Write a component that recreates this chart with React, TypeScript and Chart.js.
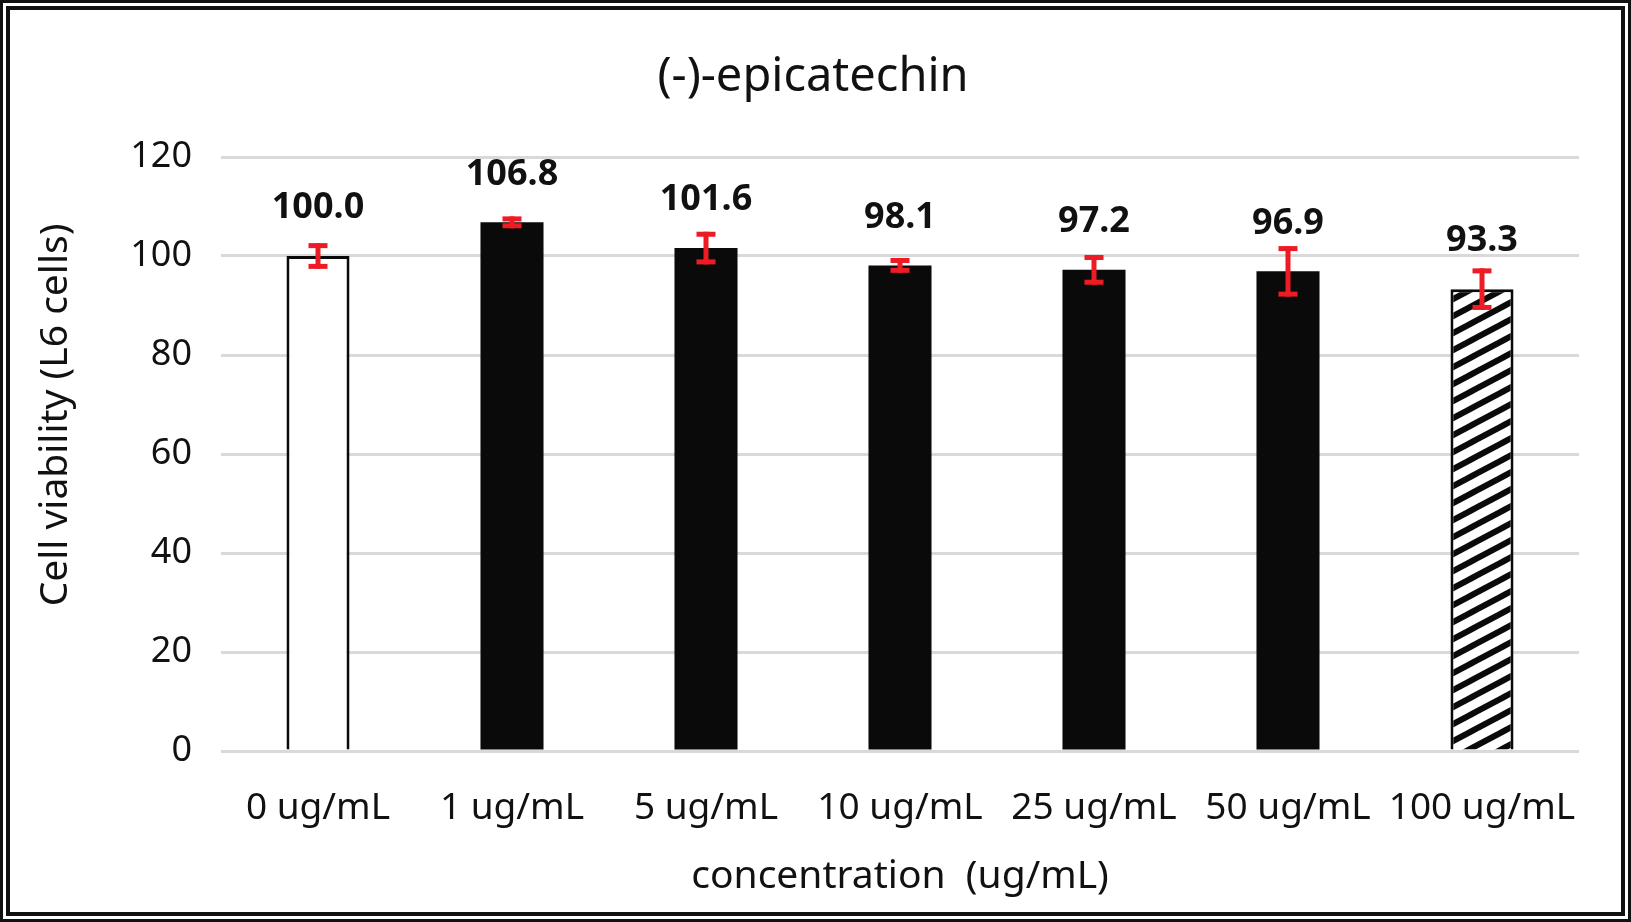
import React, { useEffect, useRef } from "react";
import { Chart, registerables } from "chart.js";

Chart.register(...registerables);

const categories = ["0 ug/mL", "1 ug/mL", "5 ug/mL", "10 ug/mL", "25 ug/mL", "50 ug/mL", "100 ug/mL"];
const viability = [100.0, 106.8, 101.6, 98.1, 97.2, 96.9, 93.3];
const errors = [2.6, 1.2, 3.3, 1.5, 3.0, 5.1, 4.2];
const barKinds = ["white", "black", "black", "black", "black", "black", "hatch"];
const yTicks = [0, 20, 40, 60, 80, 100, 120];
const titleText = "(-)-epicatechin";
const yTitleText = "Cell viability (L6 cells)";
const xTitleText = "concentration  (ug/mL)";

const W = 1631;
const H = 922;
const FONT = "'Noto Sans', sans-serif";

function makeHatch(): CanvasPattern | string {
  const tw = 32;
  const th = 17;
  const c = document.createElement("canvas");
  c.width = tw;
  c.height = th;
  const g = c.getContext("2d");
  if (!g) return "#fff";
  g.fillStyle = "#fff";
  g.fillRect(0, 0, tw, th);
  g.strokeStyle = "#0a0a0a";
  g.lineWidth = 6;
  for (let k = -1; k <= 2; k++) {
    g.beginPath();
    g.moveTo(-tw, k * th + th);
    g.lineTo(2 * tw, k * th - 2 * th);
    g.stroke();
  }
  const p = g.createPattern(c, "repeat");
  return p || "#fff";
}

export default function App() {
  const ref = useRef<HTMLCanvasElement | null>(null);

  useEffect(() => {
    const canvas = ref.current;
    if (!canvas) return;
    const hatch = makeHatch();
    const fills = barKinds.map((k) => (k === "white" ? "#ffffff" : k === "black" ? "#0a0a0a" : hatch));

    const framePlugin = {
      id: "frame",
      beforeDraw(chart: any) {
        const ctx = chart.ctx;
        ctx.save();
        ctx.fillStyle = "#ffffff";
        ctx.fillRect(0, 0, W, H);
        ctx.strokeStyle = "#111111";
        ctx.lineWidth = 3;
        ctx.strokeRect(1.5, 1.5, W - 3, H - 3);
        ctx.lineWidth = 4;
        ctx.strokeRect(8, 8, W - 16, H - 16);
        ctx.restore();
      },
    };

    const extrasPlugin = {
      id: "extras",
      afterDatasetsDraw(chart: any) {
        const ctx = chart.ctx;
        const meta = chart.getDatasetMeta(0);
        const ys = chart.scales.y;
        ctx.save();
        meta.data.forEach((el: any, i: number) => {
          const v = viability[i];
          const e = errors[i];
          const yTop = ys.getPixelForValue(v + e);
          const yBot = ys.getPixelForValue(v - e);
          const x = el.x;
          ctx.fillStyle = "#ed1c24";
          ctx.fillRect(x - 2.5, yTop, 5, yBot - yTop);
          ctx.fillRect(x - 9.5, yTop, 19, 5);
          ctx.fillRect(x - 9.5, yBot - 5, 19, 5);
          ctx.fillStyle = "#111111";
          ctx.font = `bold 36px ${FONT}`;
          ctx.textAlign = "center";
          ctx.textBaseline = "middle";
          ctx.fillText(v.toFixed(1), x, ys.getPixelForValue(v) - 48);
        });
        ctx.restore();
      },
      afterDraw(chart: any) {
        const ctx = chart.ctx;
        ctx.save();
        ctx.fillStyle = "#111111";
        ctx.textAlign = "center";
        ctx.textBaseline = "middle";
        ctx.font = `47px ${FONT}`;
        ctx.fillText(titleText, 813, 78);
        ctx.translate(56, 415);
        ctx.rotate(-Math.PI / 2);
        ctx.font = `39px ${FONT}`;
        ctx.fillText(yTitleText, 0, 0);
        ctx.restore();
      },
    };

    const chart = new Chart(canvas, {
      type: "bar",
      data: {
        labels: categories,
        datasets: [
          {
            data: viability,
            backgroundColor: fills as any,
            borderColor: "#0a0a0a",
            borderWidth: barKinds.map((k) => (k === "black" ? 0 : 3)),
            barPercentage: 0.325,
            categoryPercentage: 1,
          },
        ],
      },
      options: {
        responsive: false,
        animation: false,
        devicePixelRatio: 1,
        layout: { padding: { left: 0, right: 52, top: 157, bottom: 20 } },
        plugins: {
          legend: { display: false },
          title: { display: false },
          tooltip: { enabled: false },
        },
        scales: {
          x: {
            grid: { display: false },
            border: { display: false },
            ticks: {
              color: "#111111",
              font: { family: FONT, size: 37 },
              padding: 27,
              maxRotation: 0,
              autoSkip: false,
            },
            title: {
              display: true,
              text: xTitleText,
              color: "#111111",
              font: { family: FONT, size: 39 },
              padding: { top: 0, bottom: 2 },
            },
            afterFit(scale: any) {
              scale.height = 151;
            },
          },
          y: {
            min: 0,
            max: 120,
            grid: { color: "#d9d9d9", lineWidth: 3, drawTicks: false },
            border: { display: false },
            ticks: {
              color: "#111111",
              font: { family: FONT, size: 36 },
              padding: 29,
            },
            afterBuildTicks(scale: any) {
              scale.ticks = yTicks.map((v) => ({ value: v }));
            },
            afterFit(scale: any) {
              scale.width = 221;
            },
          },
        },
      },
      plugins: [framePlugin, extrasPlugin],
    });

    return () => chart.destroy();
  }, []);

  return (
    <div style={{ position: "fixed", left: 0, top: 0, width: W, height: H, background: "#fff" }}>
      <canvas ref={ref} width={W} height={H} style={{ width: W, height: H, display: "block" }} />
    </div>
  );
}
